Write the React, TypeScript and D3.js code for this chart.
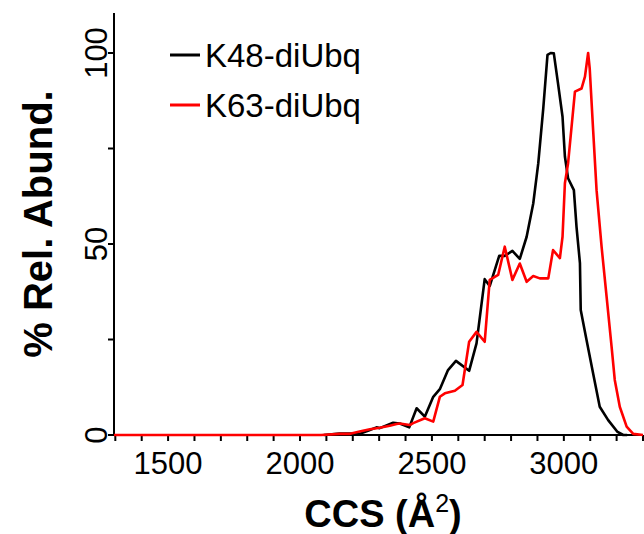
import React from "react";
import * as d3 from "d3";

const k48CCS = [2090, 2150, 2190, 2226, 2260, 2290, 2302, 2353, 2378, 2414, 2442, 2473, 2505, 2530, 2561, 2591, 2641, 2669, 2700, 2719, 2755, 2776, 2805, 2833, 2859, 2884, 2903, 2922, 2938, 2950, 2962, 2978, 2995, 3004, 3016, 3038, 3048, 3061, 3064, 3086, 3111, 3136, 3168, 3202, 3225, 3240];
const k48Abund = [0, 0.4, 0.4, 0.3, 1.2, 2.0, 1.8, 3.2, 3.0, 2.0, 7.0, 4.8, 10.0, 12.0, 17.0, 19.4, 16.8, 24.0, 40.8, 39.0, 46.9, 46.9, 48.2, 46.1, 51.9, 60.6, 71.1, 85.5, 99.5, 100, 99.9, 92, 83.3, 72.9, 67.2, 64.1, 54.5, 45, 32.7, 24.9, 16.1, 7.4, 3.9, 0.9, 0, 0];

const k63CCS = [1295, 2080, 2150, 2190, 2226, 2265, 2302, 2340, 2366, 2378, 2416, 2429, 2473, 2505, 2530, 2549, 2587, 2616, 2641, 2669, 2700, 2719, 2751, 2776, 2805, 2833, 2859, 2884, 2909, 2941, 2959, 2985, 2995, 3004, 3016, 3042, 3067, 3080, 3092, 3098, 3111, 3124, 3143, 3162, 3181, 3193, 3212, 3238, 3263, 3300];
const k63Abund = [0, 0, 0.3, 0.3, 0.9, 1.5, 1.9, 2.4, 2.9, 3.0, 2.6, 3.1, 4.4, 3.5, 10.0, 10.9, 11.6, 13.1, 24.4, 27.0, 24.4, 40.6, 41.9, 49.3, 40.6, 44.9, 40.1, 41.6, 41.0, 41.0, 48.4, 46.3, 51.9, 65.9, 71.1, 89.9, 90.7, 93.8, 100, 96, 79.8, 64.1, 49.3, 36.2, 23.1, 14.4, 7.4, 2.2, 0.3, 0];

const xTickValues = d3.range(1300, 3301, 100);
const xTickLabels = [1500, 2000, 2500, 3000];
const yTickValues = [0, 25, 50, 75, 100];
const yTickLabels = [0, 50, 100];
const seriesNames = ["K48-diUbq", "K63-diUbq"];
const seriesColors = ["#000000", "#ff0000"];

const W = 644;
const H = 534;
const FONT = "'Liberation Sans', Arial, sans-serif";

export default function App() {
  const x = d3.scaleLinear().domain([1295, 3300]).range([114, 643]);
  const y = d3.scaleLinear().domain([0, 100]).range([435, 53]);
  const yTop = 13;

  const line = d3
    .line<[number, number]>()
    .x((d) => x(d[0]))
    .y((d) => y(d[1]));

  const k48 = k48CCS.map((c, i) => [c, k48Abund[i]] as [number, number]);
  const k63 = k63CCS.map((c, i) => [c, k63Abund[i]] as [number, number]);

  const x0 = x(1295);
  const y0 = y(0);

  return (
    <svg
      width={W}
      height={H}
      style={{ position: "absolute", left: 0, top: 0, background: "#fff" }}
      fontFamily={FONT}
    >
      <rect width={W} height={H} fill="#fff" />
      {/* axes */}
      <line x1={x0} x2={x0} y1={yTop} y2={y0} stroke="#000" strokeWidth={2} />
      <line x1={x0} x2={643} y1={y0} y2={y0} stroke="#000" strokeWidth={2} />
      {xTickValues.map((v) => (
        <line key={"xt" + v} x1={x(v)} x2={x(v)} y1={y0} y2={y0 + 6} stroke="#000" strokeWidth={2} />
      ))}
      {yTickValues.map((v) => (
        <line key={"yt" + v} x1={x0 - 6} x2={x0} y1={y(v)} y2={y(v)} stroke="#000" strokeWidth={2} />
      ))}
      {xTickLabels.map((v) => (
        <text key={"xl" + v} x={x(v)} y={474} textAnchor="middle" fontSize={31} fill="#000">
          {v}
        </text>
      ))}
      {yTickLabels.map((v) => (
        <text
          key={"yl" + v}
          transform={`translate(${x0 - 7},${y(v)}) rotate(-90)`}
          textAnchor="middle"
          fontSize={31}
          fill="#000"
        >
          {v}
        </text>
      ))}
      {/* curves */}
      <path d={line(k48) || ""} fill="none" stroke={seriesColors[0]} strokeWidth={2.6} strokeLinejoin="round" />
      <path d={line(k63) || ""} fill="none" stroke={seriesColors[1]} strokeWidth={2.6} strokeLinejoin="round" />
      {/* legend */}
      {seriesNames.map((n, i) => (
        <g key={n}>
          <line x1={170} x2={200} y1={55 + i * 50} y2={55 + i * 50} stroke={seriesColors[i]} strokeWidth={3} />
          <text x={205} y={67 + i * 50} fontSize={33} fill="#000">
            {n}
          </text>
        </g>
      ))}
      {/* axis titles */}
      <text x={383} y={527} textAnchor="middle" fontSize={38} fontWeight="bold" fill="#000">
        CCS (Å<tspan fontSize={25} fontWeight="normal" dy={-15}>2</tspan>
        <tspan dy={15}>)</tspan>
      </text>
      <text
        transform={`translate(52,${(yTop + y0) / 2}) rotate(-90)`}
        textAnchor="middle"
        fontSize={40}
        fontWeight="bold"
        fill="#000"
      >
        % Rel. Abund.
      </text>
    </svg>
  );
}
